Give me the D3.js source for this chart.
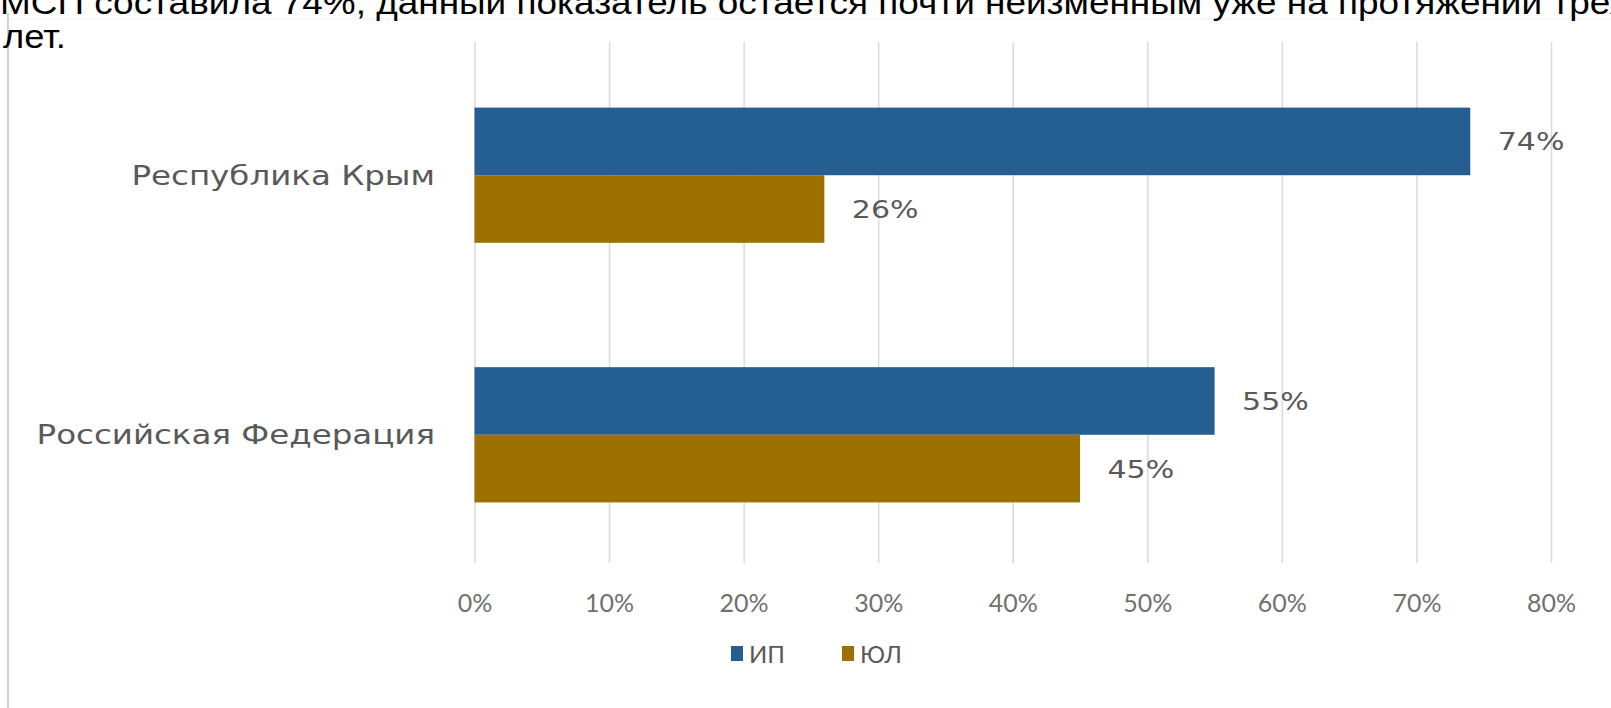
<!DOCTYPE html>
<html>
<head>
<meta charset="utf-8">
<script src="https://cdn.jsdelivr.net/npm/d3@7"></script>
<style>
  body { margin: 0; background: #fff; }
  svg { display: block; }
</style>
</head>
<body>
<div id="chart"></div>
<script>
// chart values
const headerLines = [
    "МСП составила 74%, данный показатель остается почти неизменным уже на протяжении трех",
    "лет."
];
const categories = ["Республика Крым", "Российская Федерация"];
const seriesNames = ["ИП", "ЮЛ"];
const ipValues = [0.74, 0.55];
const ulValues = [0.26, 0.45];
const tickValues = [0, 0.1, 0.2, 0.3, 0.4, 0.5, 0.6, 0.7, 0.8];

const width = 1611;
const height = 708;
const colors = { "ИП": "#255e91", "ЮЛ": "#9c7100" };

const gridTop = 42;
const gridBottom = 563;

const svg = d3.select('#chart')
    .append('svg')
    .attr('width', width)
    .attr('height', height);

// chart frame (left edge and faint top edge)
svg.append('line')
    .attr('x1', 8).attr('x2', 8)
    .attr('y1', 13).attr('y2', height)
    .attr('stroke', '#d2d2d2')
    .attr('stroke-width', 2);
svg.append('line')
    .attr('x1', 8).attr('x2', width)
    .attr('y1', 19).attr('y2', 19)
    .attr('stroke', '#efefef')
    .attr('stroke-width', 1);

const x = d3.scaleLinear()
    .domain([0, 0.8])
    .range([474.5, 1551]);

const y = d3.scaleBand()
    .domain(categories)
    .range([44, 566])
    .paddingInner(0.479)
    .paddingOuter(0.245);

const ySub = d3.scaleBand()
    .domain(seriesNames)
    .range([0, y.bandwidth()]);

// gridlines
const grid = svg.append('g')
    .attr('transform', `translate(0,${gridBottom})`)
    .call(d3.axisBottom(x)
        .tickValues(tickValues)
        .tickSize(-(gridBottom - gridTop))
        .tickFormat(''));
grid.select('.domain').remove();
grid.selectAll('line')
    .attr('stroke', '#dadada')
    .attr('stroke-width', 1.5);

// tick labels
const axis = svg.append('g')
    .attr('transform', 'translate(0,591)')
    .call(d3.axisBottom(x)
        .tickValues(tickValues)
        .tickSize(0)
        .tickFormat(d3.format('.0%')));
axis.select('.domain').remove();
axis.selectAll('text')
    .attr('font-family', 'Lato, sans-serif')
    .attr('font-size', 25)
    .attr('fill', '#707070');

// bars
const rows = categories.map((c, i) => ({
    category: c,
    values: [
        { key: "ИП", value: ipValues[i] },
        { key: "ЮЛ", value: ulValues[i] }
    ]
}));

const group = svg.selectAll('g.cat')
    .data(rows)
    .enter()
    .append('g')
    .attr('class', 'cat')
    .attr('transform', d => `translate(0,${y(d.category)})`);

group.selectAll('rect')
    .data(d => d.values)
    .enter()
    .append('rect')
    .attr('x', x(0))
    .attr('y', d => ySub(d.key))
    .attr('width', d => x(d.value) - x(0))
    .attr('height', ySub.bandwidth())
    .attr('fill', d => colors[d.key]);

// data labels
group.selectAll('text.val')
    .data(d => d.values)
    .enter()
    .append('text')
    .attr('class', 'val')
    .attr('transform', d => `translate(${x(d.value) + 27.5},${ySub(d.key) + ySub.bandwidth() / 2}) scale(1.2,1)`)
    .attr('dy', '0.36em')
    .attr('font-family', 'DejaVu Sans, sans-serif')
    .attr('font-size', 25)
    .attr('fill', '#595959')
    .text(d => d3.format('.0%')(d.value));

// category labels
svg.selectAll('text.cat')
    .data(categories)
    .enter()
    .append('text')
    .attr('class', 'cat')
    .attr('transform', d => `translate(435,${y(d) + y.bandwidth() / 2}) scale(1.25,1)`)
    .attr('dy', '0.36em')
    .attr('text-anchor', 'end')
    .attr('font-family', 'DejaVu Sans, sans-serif')
    .attr('font-size', 26)
    .attr('fill', '#595959')
    .text(d => d);

// legend
const legend = svg.append('g')
    .attr('transform', 'translate(731,654)');
const legendX = [0, 111];
const item = legend.selectAll('g')
    .data(seriesNames)
    .enter()
    .append('g')
    .attr('transform', (d, i) => `translate(${legendX[i]},0)`);
item.append('rect')
    .attr('x', 0)
    .attr('y', -8)
    .attr('width', 12)
    .attr('height', 15)
    .attr('fill', d => colors[d]);
item.append('text')
    .attr('x', 18)
    .attr('dy', '0.36em')
    .attr('font-family', 'Lato, sans-serif')
    .attr('font-size', 24)
    .attr('fill', '#595959')
    .text(d => d);

// text above the chart
svg.selectAll('text.head')
    .data(headerLines)
    .enter()
    .append('text')
    .attr('class', 'head')
    .attr('transform', (d, i) => i === 0 ? 'translate(0,14)' : 'translate(3,48) scale(1.1,1)')
    .attr('font-family', 'Liberation Sans, Arial, sans-serif')
    .attr('font-size', 33)
    .attr('fill', '#000')
    .attr('textLength', (d, i) => i === 0 ? 1628 : null)
    .attr('lengthAdjust', 'spacingAndGlyphs')
    .text(d => d);
</script>
</body>
</html>
